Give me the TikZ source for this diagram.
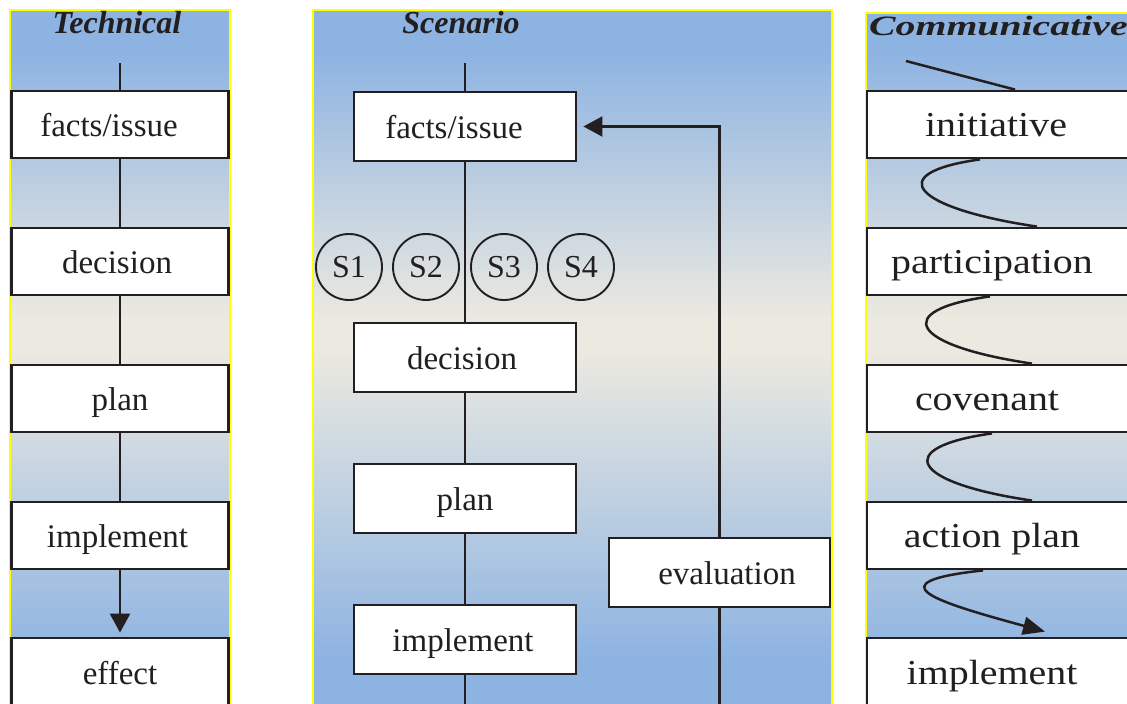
\documentclass[tikz,border=0pt]{standalone}
\usepackage{fontspec}
\setmainfont{Liberation Serif}
\newfontfamily\cwide[FakeStretch=1.14]{Liberation Serif}
\newfontfamily\cwidettl[FakeStretch=1.42]{Liberation Serif}
\usetikzlibrary{arrows.meta}
\definecolor{pblue}{RGB}{141,179,226}
\definecolor{pbeige}{RGB}{236,234,224}
\definecolor{ink}{RGB}{35,31,32}
\definecolor{pyellow}{RGB}{255,255,0}
\newcommand\panelbg[3]{%
  \fill[pblue] (#1,#3) rectangle (#2,51);
  \shade[top color=pblue, bottom color=pbeige] (#1,50) rectangle (#2,321);
  \fill[pbeige] (#1,320) rectangle (#2,351);
  \shade[top color=pbeige, bottom color=pblue] (#1,350) rectangle (#2,661);
  \fill[pblue] (#1,660) rectangle (#2,720);
  \draw[pyellow, line width=2pt] (#1,720) -- (#1,#3) -- (#2,#3) -- (#2,720);
}
\begin{document}
\begin{tikzpicture}[x=1pt,y=-1pt,
  box/.style={draw=ink, line width=2.8pt, fill=white, rectangle, inner sep=0pt,
    font=\fontsize{33}{36}\selectfont, text=ink, text height=26pt, text depth=2pt},
  tbox/.style={box, minimum width=217pt, minimum height=67pt},
  sbox/.style={box, minimum width=222pt, minimum height=69pt},
  cbox/.style={box, minimum width=273pt, minimum height=67pt,
    font=\cwide\fontsize{35}{40}\selectfont, text height=27pt, text depth=4pt},
  ttl/.style={font=\fontsize{32}{36}\selectfont\bfseries\itshape, text=ink, inner sep=0pt, anchor=base},
  conn/.style={draw=ink, line width=2.5pt},
  thin/.style={draw=ink, line width=2.1pt},
  scirc/.style={circle, draw=ink, line width=1.9pt, minimum size=66pt, inner sep=0pt,
    font=\fontsize{32}{36}\selectfont, text=ink},
  tipA/.style={-{Triangle[width=20pt,length=19pt]}},
  tipB/.style={-{Triangle[width=18pt,length=22pt]}},
]
\useasboundingbox (0,0) rectangle (1127,704);
\clip (0,0) rectangle (1127,704);

% panels
\panelbg{10}{230}{10}
\panelbg{313}{832}{10}
\panelbg{866}{1140}{13}

% Technical
\node[ttl] (tT) at (117,33) {Technical};
\coordinate (t0) at (120,63);
\node[tbox] (t1) at (120,124.5) {facts/issue\hspace*{22pt}};
\node[tbox] (t2) at (120,261.5) {decision\hspace*{6pt}};
\node[tbox] (t3) at (120,398.5) {plan};
\node[tbox] (t4) at (120,535.5) {implement\hspace*{5pt}};
\node[tbox, minimum height=69pt] (t5) at (120,672.5) {effect};
\draw[conn] (t0) -- (t1.north);
\draw[conn] (t1) -- (t2);
\draw[conn] (t2) -- (t3);
\draw[conn] (t3) -- (t4);
\draw[conn, tipA, shorten >=4pt] (t4) -- (t5);

% Scenario
\node[ttl] (sT) at (461,33) {Scenario};
\coordinate (s0) at (465,63);
\node[sbox] (s1) at (465,126.5) {facts/issue\hspace*{22pt}};
\node[sbox] (s2) at (465,357.5) {decision\hspace*{6pt}};
\node[sbox] (s3) at (465,498.5) {plan};
\node[sbox] (s4) at (465,639.5) {implement\hspace*{4pt}};
\node[sbox, minimum width=221pt] (s5) at (719.5,572.5) {\hspace*{15pt}evaluation};
\node[scirc] (c1) at (349,267) {S1};
\node[scirc] (c2) at (426,267) {S2};
\node[scirc] (c3) at (504,267) {S3};
\node[scirc] (c4) at (581,267) {S4};
\coordinate (sb1) at (465,712);
\coordinate (sb2) at (719.5,712);
\draw[conn] (s0) -- (s1.north);
\draw[conn] (s1) -- (s2);
\draw[conn] (s2) -- (s3);
\draw[conn] (s3) -- (s4);
\draw[conn] (s4) -- (sb1);
\draw[thin] (s5) -- (sb2);
\draw[thin, tipA, shorten >=6pt] (s5.north) |- (s1.east);

% Communicative
\node[ttl, font=\cwidettl\fontsize{28}{32}\selectfont\bfseries\itshape, anchor=base west] (cT) at (869,35) {Communicative};
\node[cbox] (k1) at (1003.5,124.5) {initiative\hspace*{15pt}};
\node[cbox] (k2) at (1003.5,261.5) {participation\hspace*{23pt}};
\node[cbox] (k3) at (1003.5,398.5) {covenant\hspace*{33pt}};
\node[cbox] (k4) at (1003.5,535.5) {action plan\hspace*{23pt}};
\node[cbox, minimum height=69pt] (k5) at (1003.5,672.5) {implement\hspace*{23pt}};
\coordinate (k0) at (906,61);
\draw[conn] (k0) -- ([xshift=11.5pt]k1.north);
\draw[conn] ([xshift=-23.5pt]k1.south) .. controls +(-100,14) and +(-122,-18) .. ([xshift=33.5pt]k2.north);
\draw[conn] ([xshift=-13.5pt]k2.south) .. controls +(-100,14) and +(-122,-18) .. ([xshift=28.5pt]k3.north);
\draw[conn] ([xshift=-11.5pt]k3.south) .. controls +(-100,14) and +(-122,-18) .. ([xshift=28.5pt]k4.north);
\draw[conn, tipB] ([xshift=-20.5pt]k4.south) .. controls +(-110,12) and +(-110,-30) .. ([xshift=41.5pt,yshift=5pt]k5.north);
\end{tikzpicture}
\end{document}
